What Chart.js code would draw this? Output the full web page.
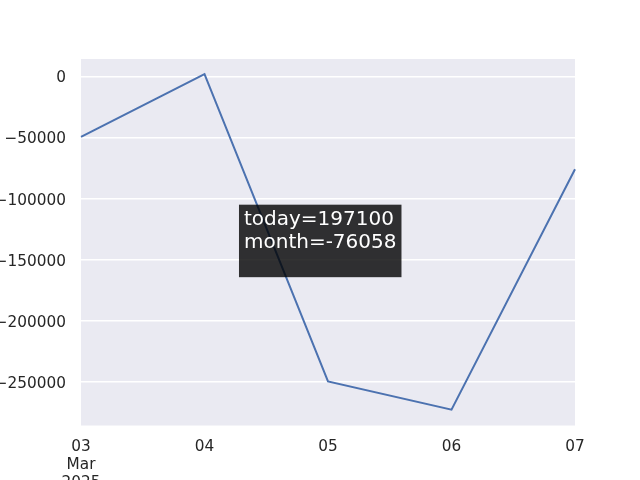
<!DOCTYPE html>
<html>
<head>
<meta charset="utf-8">
<script src="https://cdn.jsdelivr.net/npm/chart.js@4/dist/chart.umd.min.js"></script>
<style>
html,body{margin:0;padding:0;background:#fff;}
#wrap{width:640px;height:480px;}
</style>
</head>
<body>
<div id="wrap"><canvas id="c" width="640" height="480"></canvas></div>
<script>
const categories = [["03","Mar","2025"], "04", "05", "06", "07"];
const values = [-49500, 1800, -249500, -272600, -76058];
const yTicks = [0, -50000, -100000, -150000, -200000, -250000];
const noteLines = ["today=197100", "month=-76058"];

const FONT = "'DejaVu Sans', sans-serif";

const bgPlugin = {
  id: 'bg',
  beforeDraw(chart) {
    const {ctx, chartArea: a} = chart;
    ctx.save();
    ctx.fillStyle = '#EAEAF2';
    ctx.fillRect(a.left, a.top, a.right - a.left, a.bottom - a.top);
    ctx.restore();
  }
};

const notePlugin = {
  id: 'note',
  afterDatasetsDraw(chart) {
    const {ctx, chartArea: a} = chart;
    const w = a.right - a.left, h = a.bottom - a.top;
    const x0 = a.left + w * 0.3198, y0 = a.top + h * 0.3975;
    const bw = 162.5, bh = 72.5;
    ctx.save();
    ctx.fillStyle = 'rgba(0,0,0,0.8)';
    ctx.fillRect(x0, y0, bw, bh);
    ctx.fillStyle = '#ffffff';
    ctx.font = '20px ' + FONT;
    ctx.textBaseline = 'alphabetic';
    ctx.textAlign = 'left';
    noteLines.forEach((t, i) => ctx.fillText(t, x0 + 5, y0 + 20.5 + i * 22.5));
    ctx.restore();
  }
};

new Chart(document.getElementById('c'), {
  type: 'line',
  data: {
    labels: categories,
    datasets: [{
      data: values,
      borderColor: '#4C72B0',
      borderWidth: 2,
      pointRadius: 0,
      tension: 0,
      fill: false
    }]
  },
  options: {
    responsive: false,
    animation: false,
    layout: {padding: {left: 0, right: 65, top: 59, bottom: 0}},
    plugins: {legend: {display: false}, tooltip: {enabled: false}},
    scales: {
      x: {
        type: 'category',
        offset: false,
        grid: {display: false, drawTicks: false},
        border: {display: false},
        ticks: {
          color: '#262626',
          font: {family: FONT, size: 15.3},
          padding: 12,
          maxRotation: 0,
          autoSkip: false
        },
        afterFit(s) { s.height = 54.5; }
      },
      y: {
        min: -285500,
        max: 14100,
        afterBuildTicks(s) { s.ticks = yTicks.map(v => ({value: v})); },
        grid: {color: '#ffffff', lineWidth: 1.4, drawTicks: false},
        border: {display: false},
        ticks: {
          color: '#262626',
          font: {family: FONT, size: 15.3},
          padding: 15,
          labelOffset: 2,
          callback: v => (v < 0 ? '\u2212' + Math.abs(v) : String(v))
        },
        afterFit(s) { s.width = 81; }
      }
    }
  },
  plugins: [bgPlugin, notePlugin]
});
</script>
</body>
</html>
